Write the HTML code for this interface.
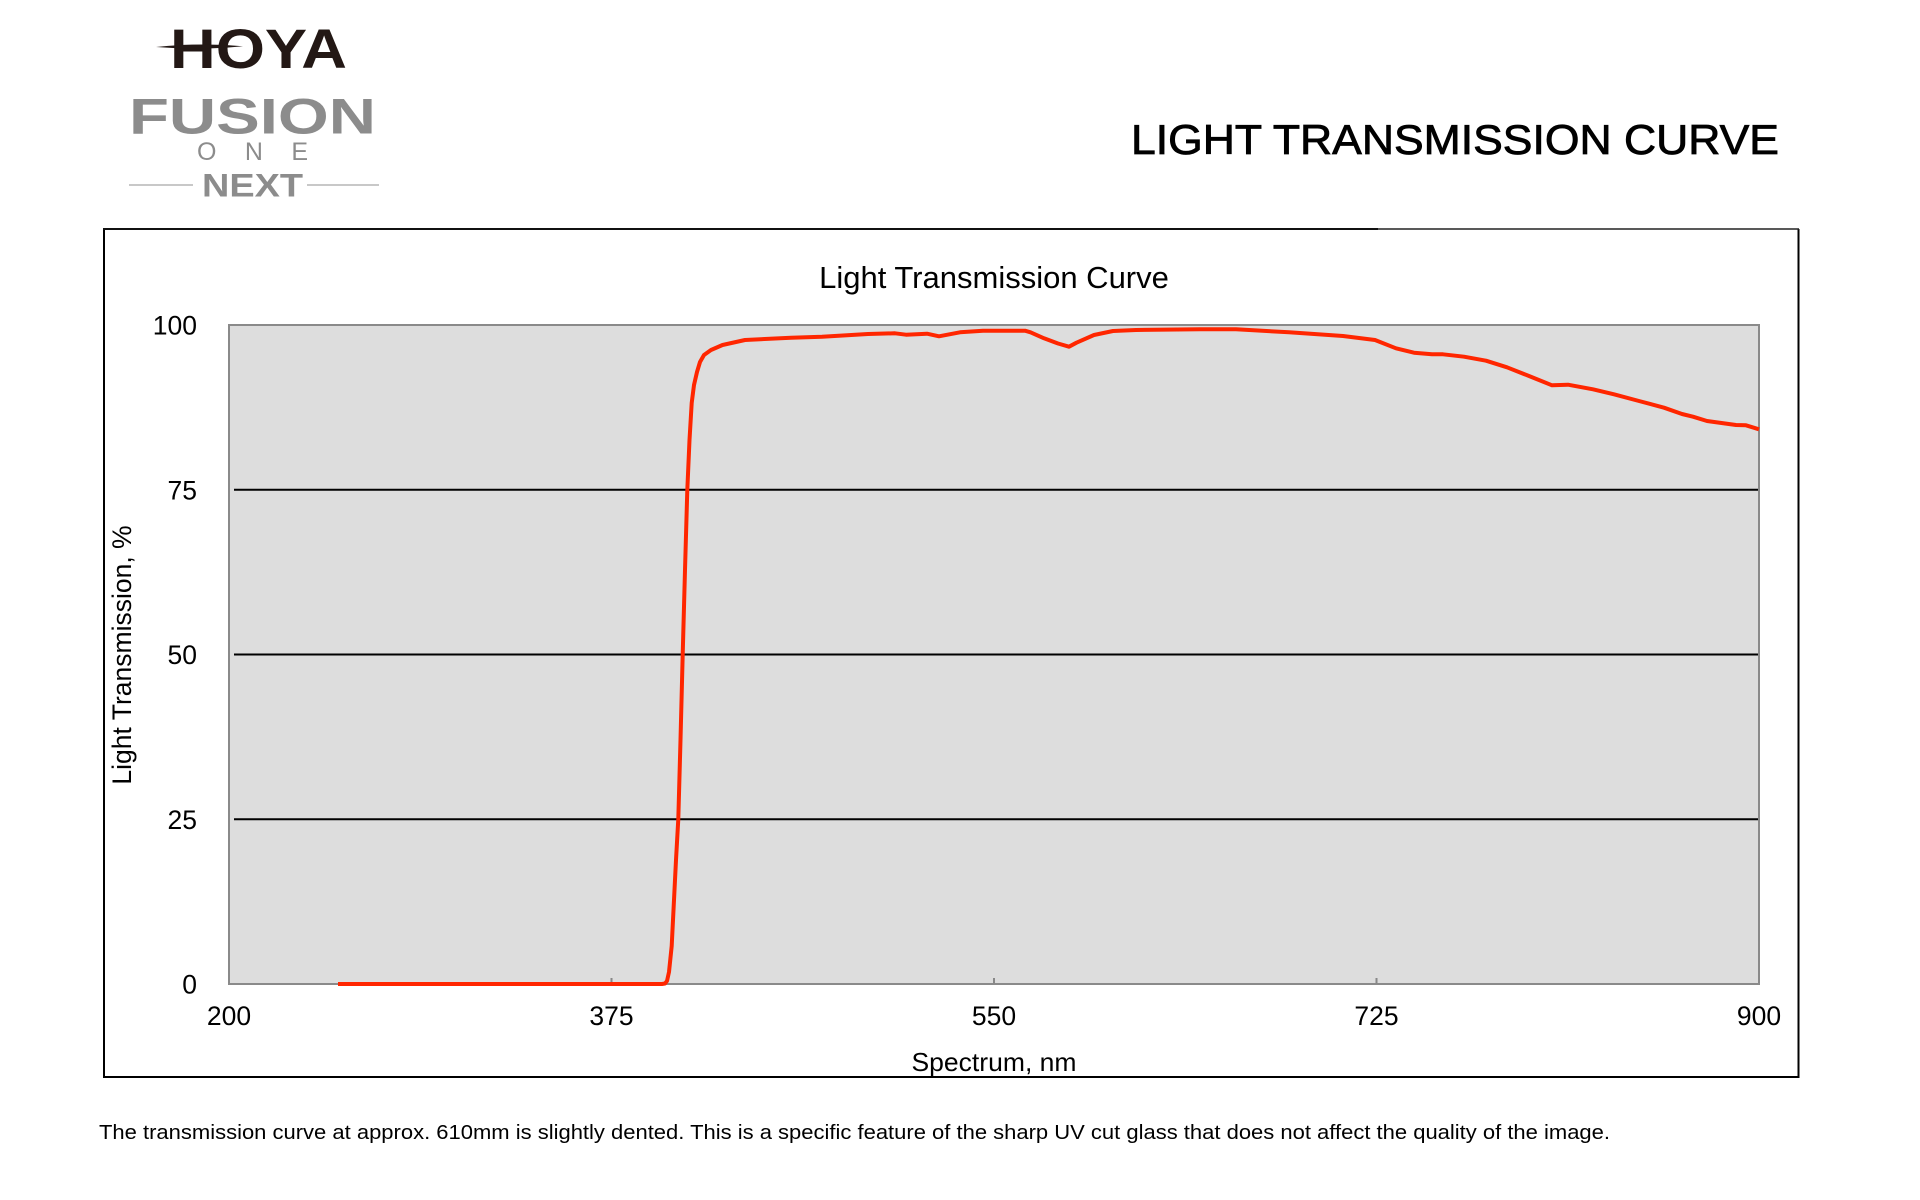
<!DOCTYPE html>
<html>
<head>
<meta charset="utf-8">
<style>
  html,body{margin:0;padding:0;background:#fff;}
  svg{display:block;}
  text{font-family:"Liberation Sans", Arial, Helvetica, sans-serif;}
</style>
</head>
<body>
<svg width="1920" height="1200" viewBox="0 0 1920 1200" xmlns="http://www.w3.org/2000/svg">
  <rect x="0" y="0" width="1920" height="1200" fill="#ffffff"/>

  <!-- Logo -->
  <text x="170" y="68" font-size="56" font-weight="bold" fill="#231815" textLength="177" lengthAdjust="spacingAndGlyphs">HOYA</text>
  <path d="M156,47 Q200,42.5 243,46.2 Q200,50.5 156,47 Z" fill="#231815"/>
  <text x="129" y="133.5" font-size="50" font-weight="bold" fill="#8c8c8c" textLength="247" lengthAdjust="spacingAndGlyphs">FUSION</text>
  <text x="197" y="160" font-size="25" fill="#8c8c8c" textLength="111" lengthAdjust="spacing">ONE</text>
  <line x1="129" y1="185" x2="193" y2="185" stroke="#a8a8a8" stroke-width="1.3"/>
  <line x1="307" y1="185" x2="379" y2="185" stroke="#a8a8a8" stroke-width="1.3"/>
  <text x="202" y="196.5" font-size="32" font-weight="bold" fill="#8c8c8c" textLength="101" lengthAdjust="spacingAndGlyphs">NEXT</text>

  <!-- Page title -->
  <text x="1131" y="154" font-size="42" fill="#000" stroke="#000" stroke-width="0.8" textLength="648" lengthAdjust="spacingAndGlyphs">LIGHT TRANSMISSION CURVE</text>

  <!-- Outer frame -->
  <line x1="104" y1="1077" x2="1799" y2="1077" stroke="#000" stroke-width="2"/>
  <line x1="104" y1="229" x2="104" y2="1078" stroke="#000" stroke-width="2"/>
  <line x1="1798.5" y1="229" x2="1798.5" y2="1078" stroke="#000" stroke-width="2"/>
  <line x1="103" y1="229" x2="1378" y2="229" stroke="#111" stroke-width="2"/>
  <line x1="1378" y1="229" x2="1799" y2="229" stroke="#222" stroke-width="1.5"/>

  <!-- Chart title -->
  <text x="994" y="288" font-size="31" text-anchor="middle" fill="#000">Light Transmission Curve</text>

  <!-- Plot area -->
  <rect x="229" y="325" width="1530" height="659" fill="#dddddd" stroke="#8a8a8a" stroke-width="2"/>

  <!-- Grid lines -->
  <line x1="234" y1="489.75" x2="1758" y2="489.75" stroke="#000" stroke-width="2"/>
  <line x1="234" y1="654.5" x2="1758" y2="654.5" stroke="#000" stroke-width="2"/>
  <line x1="234" y1="819.25" x2="1758" y2="819.25" stroke="#000" stroke-width="2"/>

  <!-- small ticks -->
  <line x1="611.5" y1="978" x2="611.5" y2="984" stroke="#888" stroke-width="2"/>
  <line x1="994" y1="978" x2="994" y2="984" stroke="#888" stroke-width="2"/>
  <line x1="1376.5" y1="978" x2="1376.5" y2="984" stroke="#888" stroke-width="2"/>

  <!-- Y tick labels -->
  <g font-size="26.5" fill="#000" text-anchor="end">
    <text x="197" y="334.5">100</text>
    <text x="197" y="499.25">75</text>
    <text x="197" y="664">50</text>
    <text x="197" y="828.75">25</text>
    <text x="197" y="993.5">0</text>
  </g>

  <!-- X tick labels -->
  <g font-size="26.5" fill="#000" text-anchor="middle">
    <text x="229" y="1025">200</text>
    <text x="611.5" y="1025">375</text>
    <text x="994" y="1025">550</text>
    <text x="1376.5" y="1025">725</text>
    <text x="1759" y="1025">900</text>
  </g>

  <!-- Axis titles -->
  <text x="994" y="1071" font-size="26" text-anchor="middle" fill="#000" textLength="165" lengthAdjust="spacingAndGlyphs">Spectrum, nm</text>
  <text transform="translate(131,655) rotate(-90)" x="0" y="0" font-size="26.5" text-anchor="middle" fill="#000">Light Transmission, %</text>

  <!-- Curve -->
  <polyline fill="none" stroke="#ff2600" stroke-width="4" stroke-linejoin="round" stroke-linecap="butt"
    points="338,984 662,984 665,983.5 667,981 669,972 671.7,946 674,900 676,860 678.3,819 680.5,740 682.7,654.5 685,570 687.3,490 689.5,440 691.7,403 694,385 697,372 700,362 704,355 711,350 722.5,345 745,340 791,337.7 822,336.7 868,334 895,333.3 906,334.7 927,333.7 939,336.3 960,332.3 983,330.7 1025,330.7 1030.5,332.3 1044,338.3 1058,343.5 1069,346.7 1076.5,342.7 1094,335 1113,331 1136,330 1200,329.3 1236,329.3 1289,332.3 1343,336 1375,340 1396,348.3 1414,352.7 1432,354.3 1443,354.3 1464,356.7 1486,360.7 1507,367.3 1529,376 1552,385.3 1568,384.7 1593,389.3 1614,394.3 1639,401 1664,407.7 1682,414 1693,416.7 1707,421 1736,425 1746,425.3 1759,429.3"/>

  <!-- Footnote -->
  <text x="99" y="1139" font-size="20" fill="#000" textLength="1511" lengthAdjust="spacingAndGlyphs">The transmission curve at approx. 610mm is slightly dented. This is a specific feature of the sharp UV cut glass that does not affect the quality of the image.</text>
</svg>
</body>
</html>
